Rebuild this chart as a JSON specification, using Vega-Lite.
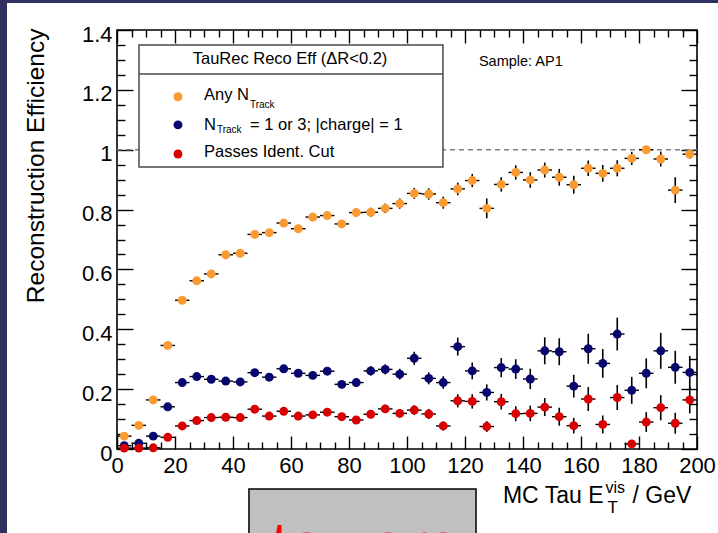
{
"$schema":"https://vega.github.io/schema/vega-lite/v6.json",
"width":580,"height":419,
"autosize":{"type":"none"},
"padding":{"left":117,"top":30,"right":21,"bottom":84},
"background":"#ffffff",
"config":{"font":"Liberation Sans","view":{"stroke":"#000000","strokeWidth":1.6},"text":{"font":"Liberation Sans","color":"#000000"}},
"datasets":{"eff":[
{"s":"Any","x":2.5,"lo":0,"hi":5,"y":0.043,"e":0.005},
{"s":"Any","x":7.5,"lo":5,"hi":10,"y":0.079,"e":0.006},
{"s":"Any","x":12.5,"lo":10,"hi":15,"y":0.164,"e":0.007},
{"s":"Any","x":17.5,"lo":15,"hi":20,"y":0.346,"e":0.008},
{"s":"Any","x":22.5,"lo":20,"hi":25,"y":0.497,"e":0.008},
{"s":"Any","x":27.5,"lo":25,"hi":30,"y":0.562,"e":0.008},
{"s":"Any","x":32.5,"lo":30,"hi":35,"y":0.585,"e":0.009},
{"s":"Any","x":37.5,"lo":35,"hi":40,"y":0.649,"e":0.009},
{"s":"Any","x":42.5,"lo":40,"hi":45,"y":0.654,"e":0.009},
{"s":"Any","x":47.5,"lo":45,"hi":50,"y":0.717,"e":0.010},
{"s":"Any","x":52.5,"lo":50,"hi":55,"y":0.723,"e":0.010},
{"s":"Any","x":57.5,"lo":55,"hi":60,"y":0.755,"e":0.011},
{"s":"Any","x":62.5,"lo":60,"hi":65,"y":0.736,"e":0.011},
{"s":"Any","x":67.5,"lo":65,"hi":70,"y":0.775,"e":0.012},
{"s":"Any","x":72.5,"lo":70,"hi":75,"y":0.780,"e":0.012},
{"s":"Any","x":77.5,"lo":75,"hi":80,"y":0.752,"e":0.013},
{"s":"Any","x":82.5,"lo":80,"hi":85,"y":0.790,"e":0.014},
{"s":"Any","x":87.5,"lo":85,"hi":90,"y":0.791,"e":0.015},
{"s":"Any","x":92.5,"lo":90,"hi":95,"y":0.804,"e":0.016},
{"s":"Any","x":97.5,"lo":95,"hi":100,"y":0.820,"e":0.017},
{"s":"Any","x":102.5,"lo":100,"hi":105,"y":0.854,"e":0.018},
{"s":"Any","x":107.5,"lo":105,"hi":110,"y":0.852,"e":0.019},
{"s":"Any","x":112.5,"lo":110,"hi":115,"y":0.823,"e":0.020},
{"s":"Any","x":117.5,"lo":115,"hi":120,"y":0.869,"e":0.021},
{"s":"Any","x":122.5,"lo":120,"hi":125,"y":0.897,"e":0.022},
{"s":"Any","x":127.5,"lo":125,"hi":130,"y":0.804,"e":0.033},
{"s":"Any","x":132.5,"lo":130,"hi":135,"y":0.884,"e":0.024},
{"s":"Any","x":137.5,"lo":135,"hi":140,"y":0.924,"e":0.024},
{"s":"Any","x":142.5,"lo":140,"hi":145,"y":0.899,"e":0.026},
{"s":"Any","x":147.5,"lo":145,"hi":150,"y":0.932,"e":0.025},
{"s":"Any","x":152.5,"lo":150,"hi":155,"y":0.908,"e":0.028},
{"s":"Any","x":157.5,"lo":155,"hi":160,"y":0.883,"e":0.030},
{"s":"Any","x":162.5,"lo":160,"hi":165,"y":0.938,"e":0.026},
{"s":"Any","x":167.5,"lo":165,"hi":170,"y":0.921,"e":0.028},
{"s":"Any","x":172.5,"lo":170,"hi":175,"y":0.938,"e":0.027},
{"s":"Any","x":177.5,"lo":175,"hi":180,"y":0.971,"e":0.022},
{"s":"Any","x":182.5,"lo":180,"hi":185,"y":1.000,"e":0.0},
{"s":"Any","x":187.5,"lo":185,"hi":190,"y":0.969,"e":0.025},
{"s":"Any","x":192.5,"lo":190,"hi":195,"y":0.865,"e":0.043},
{"s":"Any","x":197.5,"lo":195,"hi":200,"y":0.985,"e":0.015},
{"s":"N13","x":2.5,"lo":0,"hi":5,"y":0.011,"e":0.003},
{"s":"N13","x":7.5,"lo":5,"hi":10,"y":0.019,"e":0.004},
{"s":"N13","x":12.5,"lo":10,"hi":15,"y":0.043,"e":0.005},
{"s":"N13","x":17.5,"lo":15,"hi":20,"y":0.141,"e":0.007},
{"s":"N13","x":22.5,"lo":20,"hi":25,"y":0.222,"e":0.008},
{"s":"N13","x":27.5,"lo":25,"hi":30,"y":0.242,"e":0.008},
{"s":"N13","x":32.5,"lo":30,"hi":35,"y":0.233,"e":0.008},
{"s":"N13","x":37.5,"lo":35,"hi":40,"y":0.227,"e":0.008},
{"s":"N13","x":42.5,"lo":40,"hi":45,"y":0.224,"e":0.009},
{"s":"N13","x":47.5,"lo":45,"hi":50,"y":0.255,"e":0.010},
{"s":"N13","x":52.5,"lo":50,"hi":55,"y":0.240,"e":0.010},
{"s":"N13","x":57.5,"lo":55,"hi":60,"y":0.268,"e":0.011},
{"s":"N13","x":62.5,"lo":60,"hi":65,"y":0.253,"e":0.011},
{"s":"N13","x":67.5,"lo":65,"hi":70,"y":0.246,"e":0.012},
{"s":"N13","x":72.5,"lo":70,"hi":75,"y":0.260,"e":0.013},
{"s":"N13","x":77.5,"lo":75,"hi":80,"y":0.216,"e":0.013},
{"s":"N13","x":82.5,"lo":80,"hi":85,"y":0.222,"e":0.014},
{"s":"N13","x":87.5,"lo":85,"hi":90,"y":0.261,"e":0.016},
{"s":"N13","x":92.5,"lo":90,"hi":95,"y":0.266,"e":0.017},
{"s":"N13","x":97.5,"lo":95,"hi":100,"y":0.250,"e":0.018},
{"s":"N13","x":102.5,"lo":100,"hi":105,"y":0.303,"e":0.022},
{"s":"N13","x":107.5,"lo":105,"hi":110,"y":0.236,"e":0.020},
{"s":"N13","x":112.5,"lo":110,"hi":115,"y":0.222,"e":0.021},
{"s":"N13","x":117.5,"lo":115,"hi":120,"y":0.342,"e":0.030},
{"s":"N13","x":122.5,"lo":120,"hi":125,"y":0.261,"e":0.028},
{"s":"N13","x":127.5,"lo":125,"hi":130,"y":0.189,"e":0.027},
{"s":"N13","x":132.5,"lo":130,"hi":135,"y":0.272,"e":0.032},
{"s":"N13","x":137.5,"lo":135,"hi":140,"y":0.267,"e":0.033},
{"s":"N13","x":142.5,"lo":140,"hi":145,"y":0.234,"e":0.034},
{"s":"N13","x":147.5,"lo":145,"hi":150,"y":0.328,"e":0.045},
{"s":"N13","x":152.5,"lo":150,"hi":155,"y":0.325,"e":0.045},
{"s":"N13","x":157.5,"lo":155,"hi":160,"y":0.210,"e":0.038},
{"s":"N13","x":162.5,"lo":160,"hi":165,"y":0.335,"e":0.050},
{"s":"N13","x":167.5,"lo":165,"hi":170,"y":0.286,"e":0.048},
{"s":"N13","x":172.5,"lo":170,"hi":175,"y":0.384,"e":0.055},
{"s":"N13","x":177.5,"lo":175,"hi":180,"y":0.196,"e":0.045},
{"s":"N13","x":182.5,"lo":180,"hi":185,"y":0.253,"e":0.050},
{"s":"N13","x":187.5,"lo":185,"hi":190,"y":0.328,"e":0.060},
{"s":"N13","x":192.5,"lo":190,"hi":195,"y":0.273,"e":0.055},
{"s":"N13","x":197.5,"lo":195,"hi":200,"y":0.256,"e":0.055},
{"s":"Ident","x":2.5,"lo":0,"hi":5,"y":0.003,"e":0.002},
{"s":"Ident","x":7.5,"lo":5,"hi":10,"y":0.003,"e":0.002},
{"s":"Ident","x":12.5,"lo":10,"hi":15,"y":0.004,"e":0.002},
{"s":"Ident","x":17.5,"lo":15,"hi":20,"y":0.039,"e":0.004},
{"s":"Ident","x":22.5,"lo":20,"hi":25,"y":0.077,"e":0.006},
{"s":"Ident","x":27.5,"lo":25,"hi":30,"y":0.095,"e":0.006},
{"s":"Ident","x":32.5,"lo":30,"hi":35,"y":0.105,"e":0.007},
{"s":"Ident","x":37.5,"lo":35,"hi":40,"y":0.106,"e":0.007},
{"s":"Ident","x":42.5,"lo":40,"hi":45,"y":0.105,"e":0.007},
{"s":"Ident","x":47.5,"lo":45,"hi":50,"y":0.133,"e":0.008},
{"s":"Ident","x":52.5,"lo":50,"hi":55,"y":0.110,"e":0.008},
{"s":"Ident","x":57.5,"lo":55,"hi":60,"y":0.126,"e":0.009},
{"s":"Ident","x":62.5,"lo":60,"hi":65,"y":0.110,"e":0.009},
{"s":"Ident","x":67.5,"lo":65,"hi":70,"y":0.114,"e":0.010},
{"s":"Ident","x":72.5,"lo":70,"hi":75,"y":0.123,"e":0.010},
{"s":"Ident","x":77.5,"lo":75,"hi":80,"y":0.108,"e":0.011},
{"s":"Ident","x":82.5,"lo":80,"hi":85,"y":0.097,"e":0.011},
{"s":"Ident","x":87.5,"lo":85,"hi":90,"y":0.116,"e":0.013},
{"s":"Ident","x":92.5,"lo":90,"hi":95,"y":0.134,"e":0.014},
{"s":"Ident","x":97.5,"lo":95,"hi":100,"y":0.119,"e":0.014},
{"s":"Ident","x":102.5,"lo":100,"hi":105,"y":0.130,"e":0.016},
{"s":"Ident","x":107.5,"lo":105,"hi":110,"y":0.117,"e":0.017},
{"s":"Ident","x":112.5,"lo":110,"hi":115,"y":0.077,"e":0.015},
{"s":"Ident","x":117.5,"lo":115,"hi":120,"y":0.161,"e":0.022},
{"s":"Ident","x":122.5,"lo":120,"hi":125,"y":0.159,"e":0.024},
{"s":"Ident","x":127.5,"lo":125,"hi":130,"y":0.075,"e":0.018},
{"s":"Ident","x":132.5,"lo":130,"hi":135,"y":0.158,"e":0.026},
{"s":"Ident","x":137.5,"lo":135,"hi":140,"y":0.118,"e":0.025},
{"s":"Ident","x":142.5,"lo":140,"hi":145,"y":0.119,"e":0.026},
{"s":"Ident","x":147.5,"lo":145,"hi":150,"y":0.140,"e":0.030},
{"s":"Ident","x":152.5,"lo":150,"hi":155,"y":0.108,"e":0.030},
{"s":"Ident","x":157.5,"lo":155,"hi":160,"y":0.078,"e":0.026},
{"s":"Ident","x":162.5,"lo":160,"hi":165,"y":0.167,"e":0.040},
{"s":"Ident","x":167.5,"lo":165,"hi":170,"y":0.082,"e":0.030},
{"s":"Ident","x":172.5,"lo":170,"hi":175,"y":0.172,"e":0.042},
{"s":"Ident","x":177.5,"lo":175,"hi":180,"y":0.017,"e":0.012},
{"s":"Ident","x":182.5,"lo":180,"hi":185,"y":0.090,"e":0.033},
{"s":"Ident","x":187.5,"lo":185,"hi":190,"y":0.138,"e":0.042},
{"s":"Ident","x":192.5,"lo":190,"hi":195,"y":0.086,"e":0.035},
{"s":"Ident","x":197.5,"lo":195,"hi":200,"y":0.164,"e":0.045}
]},
"resolve":{"axis":{"x":"independent","y":"independent"}},
"layer":[
{"data":{"values":[{}]},"mark":{"type":"rule","color":"#808080","strokeWidth":1.5,"strokeDash":[5,4]},
 "encoding":{
  "x":{"datum":0,"type":"quantitative","scale":{"domain":[0,200],"nice":false,"zero":false},
   "axis":{"orient":"top","values":[0,20,40,60,80,100,120,140,160,180,200],"labels":false,"tickSize":-13,"tickWidth":1.4,"tickColor":"#000","domain":false,"grid":false,
     "title":"vis","titleFontSize":16,"titleFontWeight":"normal","titleFont":"Liberation Sans","titleColor":"#000","titleAlign":"left","titleBaseline":"alphabetic","titleX":488,"titleY":462,"titleAngle":0}},
  "x2":{"datum":200},
  "y":{"datum":1,"type":"quantitative","scale":{"domain":[0,1.4],"nice":false,"zero":false},
   "axis":{"orient":"right","values":[0,0.2,0.4,0.6,0.8,1,1.2,1.4],"labels":false,"tickSize":-16,"tickWidth":1.4,"tickColor":"#000","domain":false,"grid":false,"title":null}}}},
{"data":{"values":[{}]},"mark":{"type":"rect","fill":"#ffffff","stroke":"#4a4a4a","strokeWidth":1.5},
 "encoding":{
  "x":{"datum":7.59,"type":"quantitative",
   "axis":{"orient":"top","values":[5,10,15,25,30,35,45,50,55,65,70,75,85,90,95,105,110,115,125,130,135,145,150,155,165,170,175,185,190,195],"labels":false,"tickSize":-7,"tickWidth":1.4,"tickColor":"#000","domain":false,"grid":false,
     "title":"T","titleFontSize":17,"titleFontWeight":"normal","titleFont":"Liberation Sans","titleColor":"#000","titleAlign":"left","titleBaseline":"alphabetic","titleX":490,"titleY":482,"titleAngle":0}},
  "x2":{"datum":112.4},
  "y":{"datum":1.35,"type":"quantitative",
   "axis":{"orient":"right","values":[0.05,0.1,0.15,0.25,0.3,0.35,0.45,0.5,0.55,0.65,0.7,0.75,0.85,0.9,0.95,1.05,1.1,1.15,1.25,1.3,1.35],"labels":false,"tickSize":-8,"tickWidth":1.4,"tickColor":"#000","domain":false,"grid":false,"title":null}},
  "y2":{"datum":0.942}}},
{"data":{"values":[{}]},"mark":{"type":"rule","color":"#4a4a4a","strokeWidth":1.5},
 "encoding":{"x":{"datum":7.59,"type":"quantitative","axis":null},"x2":{"datum":112.4},"y":{"datum":1.253,"type":"quantitative","axis":null}}},
{"data":{"name":"eff"},"mark":{"type":"rule","color":"#000000","strokeWidth":1.4},
 "encoding":{
  "x":{"field":"lo","type":"quantitative",
   "axis":{"orient":"bottom","values":[0,20,40,60,80,100,120,140,160,180,200],"format":"d","labelFontSize":22,"labelFont":"Liberation Sans","labelColor":"#000","labelPadding":19,"labelFlush":false,"labelOverlap":false,"tickSize":-13,"tickWidth":1.4,"tickColor":"#000","domain":false,"grid":false,
     "title":"MC Tau E","titleFontSize":23,"titleFontWeight":"normal","titleFont":"Liberation Sans","titleColor":"#000","titleAlign":"right","titleBaseline":"alphabetic","titleX":486,"titleY":53,"titleAngle":0}},
  "x2":{"field":"hi"},
  "y":{"field":"y","type":"quantitative",
   "axis":{"orient":"left","values":[0,0.2,0.4,0.6,0.8,1,1.2,1.4],"format":"~g","labelFontSize":22,"labelFont":"Liberation Sans","labelColor":"#000","labelPadding":21,"labelOffset":4,"labelFlush":false,"labelOverlap":false,"tickSize":-16,"tickWidth":1.4,"tickColor":"#000","domain":false,"grid":false,
     "title":"Reconstruction Efficiency","titleFontSize":24.5,"titleFontWeight":"normal","titleFont":"Liberation Sans","titleColor":"#000","titleAlign":"right","titleBaseline":"alphabetic","titleAngle":-90,"titleX":-74,"titleY":-2}}}},
{"data":{"name":"eff"},"mark":{"type":"errorbar","orient":"vertical","ticks":false,"thickness":1.6,"color":"#000000"},
 "encoding":{"x":{"field":"x","type":"quantitative","axis":null},"y":{"field":"y","type":"quantitative","axis":null},"yError":{"field":"e"}}},
{"data":{"name":"eff"},"mark":{"type":"circle","size":80,"opacity":1},
 "encoding":{
  "x":{"field":"x","type":"quantitative",
   "axis":{"orient":"bottom","values":[5,10,15,25,30,35,45,50,55,65,70,75,85,90,95,105,110,115,125,130,135,145,150,155,165,170,175,185,190,195],"labels":false,"tickSize":-7,"tickWidth":1.4,"tickColor":"#000","domain":false,"grid":false,
     "title":"/ GeV","titleFontSize":23,"titleFontWeight":"normal","titleFont":"Liberation Sans","titleColor":"#000","titleAlign":"left","titleBaseline":"alphabetic","titleX":515,"titleY":53,"titleAngle":0}},
  "y":{"field":"y","type":"quantitative",
   "axis":{"orient":"left","values":[0.05,0.1,0.15,0.25,0.3,0.35,0.45,0.5,0.55,0.65,0.7,0.75,0.85,0.9,0.95,1.05,1.1,1.15,1.25,1.3,1.35],"labels":false,"tickSize":-8,"tickWidth":1.4,"tickColor":"#000","domain":false,"grid":false,"title":null}},
  "color":{"field":"s","type":"nominal","scale":{"domain":["Any","N13","Ident"],"range":["#fa9a32","#06066e","#d80000"]},"legend":null}}},
{"data":{"values":[{}]},"mark":{"type":"text","text":"TauRec Reco Eff (ΔR<0.2)","fontSize":16.5,"align":"center","baseline":"middle"},
 "encoding":{"x":{"datum":59.66,"type":"quantitative","axis":null},"y":{"datum":1.303,"type":"quantitative","axis":null}}},
{"data":{"values":[{}]},"mark":{"type":"text","text":"Sample: AP1","fontSize":14.5,"align":"left","baseline":"alphabetic"},
 "encoding":{"x":{"datum":124.8,"type":"quantitative","axis":null},"y":{"datum":1.28,"type":"quantitative","axis":null}}},
{"data":{"values":[{}]},"mark":{"type":"circle","size":80,"opacity":1,"color":"#fa9a32"},
 "encoding":{"x":{"datum":21.03,"type":"quantitative","axis":null},"y":{"datum":1.177,"type":"quantitative","axis":null}}},
{"data":{"values":[{}]},"mark":{"type":"circle","size":80,"opacity":1,"color":"#06066e"},
 "encoding":{"x":{"datum":21.03,"type":"quantitative","axis":null},"y":{"datum":1.083,"type":"quantitative","axis":null}}},
{"data":{"values":[{}]},"mark":{"type":"circle","size":80,"opacity":1,"color":"#d80000"},
 "encoding":{"x":{"datum":21.03,"type":"quantitative","axis":null},"y":{"datum":0.9856,"type":"quantitative","axis":null}}},
{"data":{"values":[{}]},"mark":{"type":"text","text":"Any N","fontSize":16.5,"align":"left","baseline":"alphabetic"},
 "encoding":{"x":{"datum":30.0,"type":"quantitative","axis":null},"y":{"datum":1.166,"type":"quantitative","axis":null}}},
{"data":{"values":[{}]},"mark":{"type":"text","text":"Track","fontSize":10,"align":"left","baseline":"alphabetic"},
 "encoding":{"x":{"datum":45.86,"type":"quantitative","axis":null},"y":{"datum":1.139,"type":"quantitative","axis":null}}},
{"data":{"values":[{}]},"mark":{"type":"text","text":"N","fontSize":16.5,"align":"left","baseline":"alphabetic"},
 "encoding":{"x":{"datum":30.0,"type":"quantitative","axis":null},"y":{"datum":1.066,"type":"quantitative","axis":null}}},
{"data":{"values":[{}]},"mark":{"type":"text","text":"Track","fontSize":10,"align":"left","baseline":"alphabetic"},
 "encoding":{"x":{"datum":34.48,"type":"quantitative","axis":null},"y":{"datum":1.056,"type":"quantitative","axis":null}}},
{"data":{"values":[{}]},"mark":{"type":"text","text":"= 1 or 3; |charge| = 1","fontSize":16.5,"align":"left","baseline":"alphabetic"},
 "encoding":{"x":{"datum":45.86,"type":"quantitative","axis":null},"y":{"datum":1.066,"type":"quantitative","axis":null}}},
{"data":{"values":[{}]},"mark":{"type":"text","text":"Passes Ident. Cut","fontSize":16.5,"align":"left","baseline":"alphabetic"},
 "encoding":{"x":{"datum":30.0,"type":"quantitative","axis":null},"y":{"datum":0.9756,"type":"quantitative","axis":null}}},
{"data":{"values":[{}]},"mark":{"type":"rect","fill":"#c0c0c0","stroke":"#000000","strokeWidth":1.5},
 "encoding":{"x":{"datum":45.5,"type":"quantitative","axis":null},"x2":{"datum":123.8},"y":{"datum":-0.1336,"type":"quantitative","axis":null},"y2":{"datum":-0.35}}},
{"data":{"values":[{}]},"mark":{"type":"text","text":"towers","fontSize":64,"align":"left","baseline":"alphabetic","color":"#ff0000"},
 "encoding":{"x":{"datum":53.1,"type":"quantitative","axis":null},"y":{"datum":-0.393,"type":"quantitative","axis":null}}},
{"data":{"values":[{}]},"mark":{"type":"rect","fill":"#303060"},
 "encoding":{"x":{"datum":-41,"type":"quantitative","axis":null},"x2":{"datum":-37.93},"y":{"datum":1.6,"type":"quantitative","axis":null},"y2":{"datum":-0.4}}},
{"data":{"values":[{}]},"mark":{"type":"rect","fill":"#303060"},
 "encoding":{"x":{"datum":-41,"type":"quantitative","axis":null},"x2":{"datum":212},"y":{"datum":1.6,"type":"quantitative","axis":null},"y2":{"datum":1.4901}}}
]
}
